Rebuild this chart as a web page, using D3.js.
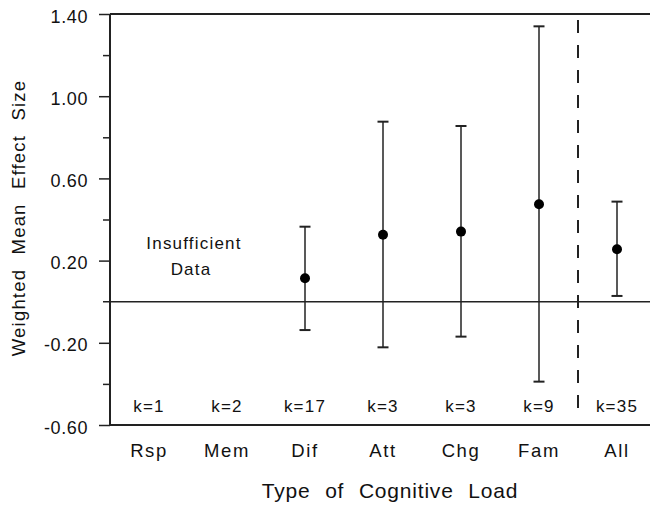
<!DOCTYPE html>
<html lang="en">
<head>
<meta charset="utf-8">
<script src="https://cdn.jsdelivr.net/npm/d3@7"></script>
<style>
  body { margin: 0; background: #fff; }
  svg text { font-family: "Liberation Sans", Arial, sans-serif; fill: #111; }
</style>
</head>
<body>
<script>
// categories of cognitive load, and their k counts
var categories = ["Rsp", "Mem", "Dif", "Att", "Chg", "Fam", "All"];
var kLabels = ["k=1", "k=2", "k=17", "k=3", "k=3", "k=9", "k=35"];
// weighted mean effect sizes with CI (null = insufficient data)
var means = [null, null, 0.114, 0.326, 0.341, 0.474, 0.255];
var lower = [null, null, -0.138, -0.222, -0.170, -0.389, 0.028];
var upper = [null, null, 0.365, 0.876, 0.855, 1.340, 0.487];
var majorTicks = [1.40, 1.00, 0.60, 0.20, -0.20, -0.60];
var minorTicks = [1.20, 0.80, 0.40, -0.40];

var width = 650, height = 506;
var plotLeft = 110, plotTop = 14, plotBottom = 425;

var svg = d3.select("body").append("svg")
  .attr("width", width)
  .attr("height", height);

var x = d3.scaleBand().domain(categories).range([plotLeft, plotLeft + 78 * 7]).padding(0);
var y = d3.scaleLinear().domain([-0.60, 1.40]).range([plotBottom, plotTop]);
var cx = function(c) { return x(c) + x.bandwidth() / 2; };

// minor ticks
var ym = svg.append("g")
  .attr("transform", "translate(" + plotLeft + ",0)")
  .call(d3.axisLeft(y).tickValues(minorTicks).tickSize(7).tickSizeOuter(0).tickFormat(""));
ym.select(".domain").remove();
ym.selectAll("line").attr("stroke", "#222").attr("stroke-width", 1.5);

// major ticks + labels (plain hyphen for negatives)
var fmt = function(d) { return d3.format(".2f")(d).replace("\u2212", "-"); };
var ya = svg.append("g")
  .attr("transform", "translate(" + plotLeft + ",0)")
  .call(d3.axisLeft(y).tickValues(majorTicks).tickSize(11).tickPadding(11).tickSizeOuter(0).tickFormat(fmt));
ya.select(".domain").remove();
ya.selectAll("line").attr("stroke", "#222").attr("stroke-width", 1.5);
ya.selectAll("text")
  .attr("font-size", 18)
  .attr("letter-spacing", 0.6)
  .attr("dy", "0.45em")
  .attr("fill", "#111");

// frame: left, top, bottom
svg.append("line").attr("x1", plotLeft).attr("x2", plotLeft).attr("y1", plotTop).attr("y2", plotBottom)
  .attr("stroke", "#222").attr("stroke-width", 2);
svg.append("line").attr("x1", plotLeft).attr("x2", width).attr("y1", plotTop).attr("y2", plotTop)
  .attr("stroke", "#222").attr("stroke-width", 2);
svg.append("line").attr("x1", plotLeft).attr("x2", width).attr("y1", plotBottom).attr("y2", plotBottom)
  .attr("stroke", "#222").attr("stroke-width", 2);

// zero line
svg.append("line").attr("x1", plotLeft - 7).attr("x2", width).attr("y1", y(0)).attr("y2", y(0))
  .attr("stroke", "#222").attr("stroke-width", 1.5);

// dashed separator before "All"
svg.append("line")
  .attr("x1", x("All")).attr("x2", x("All"))
  .attr("y1", plotTop + 6).attr("y2", plotBottom - 6)
  .attr("stroke", "#222").attr("stroke-width", 2)
  .attr("stroke-dasharray", "13,12");

// error bars
var rows = categories.map(function(c, i) {
  return { cat: c, mean: means[i], lo: lower[i], hi: upper[i] };
}).filter(function(d) { return d.mean !== null; });

var bars = svg.append("g").selectAll("g").data(rows).enter().append("g");
bars.append("line")
  .attr("x1", function(d) { return cx(d.cat); })
  .attr("x2", function(d) { return cx(d.cat); })
  .attr("y1", function(d) { return y(d.lo); })
  .attr("y2", function(d) { return y(d.hi); })
  .attr("stroke", "#222").attr("stroke-width", 1.5);
bars.append("line")
  .attr("x1", function(d) { return cx(d.cat) - 5.5; })
  .attr("x2", function(d) { return cx(d.cat) + 5.5; })
  .attr("y1", function(d) { return y(d.hi); })
  .attr("y2", function(d) { return y(d.hi); })
  .attr("stroke", "#222").attr("stroke-width", 2);
bars.append("line")
  .attr("x1", function(d) { return cx(d.cat) - 5.5; })
  .attr("x2", function(d) { return cx(d.cat) + 5.5; })
  .attr("y1", function(d) { return y(d.lo); })
  .attr("y2", function(d) { return y(d.lo); })
  .attr("stroke", "#222").attr("stroke-width", 2);
bars.append("circle")
  .attr("cx", function(d) { return cx(d.cat); })
  .attr("cy", function(d) { return y(d.mean); })
  .attr("r", 5)
  .attr("fill", "#000");

// k labels
svg.append("g").selectAll("text").data(categories).enter().append("text")
  .attr("x", function(d) { return cx(d); })
  .attr("y", 412)
  .attr("text-anchor", "middle")
  .attr("font-size", 17)
  .attr("letter-spacing", 1.2)
  .text(function(d, i) { return kLabels[i]; });

// category labels
svg.append("g").selectAll("text").data(categories).enter().append("text")
  .attr("x", function(d) { return cx(d); })
  .attr("y", 457)
  .attr("text-anchor", "middle")
  .attr("font-size", 18.5)
  .attr("letter-spacing", 1.6)
  .text(function(d) { return d; });

// insufficient data note
var note = svg.append("text")
  .attr("text-anchor", "middle")
  .attr("font-size", 17)
  .attr("letter-spacing", 1.2);
note.append("tspan").attr("x", 194).attr("y", 249).text("Insufficient");
note.append("tspan").attr("x", 191).attr("y", 275).text("Data");

// axis titles
svg.append("text")
  .attr("x", 390).attr("y", 498)
  .attr("text-anchor", "middle")
  .attr("font-size", 21)
  .attr("letter-spacing", 0.8)
  .attr("word-spacing", 8)
  .text("Type of Cognitive Load");

svg.append("text")
  .attr("transform", "translate(25,218) rotate(-90)")
  .attr("text-anchor", "middle")
  .attr("font-size", 18.5)
  .attr("letter-spacing", 1.2)
  .attr("word-spacing", 8)
  .text("Weighted Mean Effect Size");
</script>
</body>
</html>
